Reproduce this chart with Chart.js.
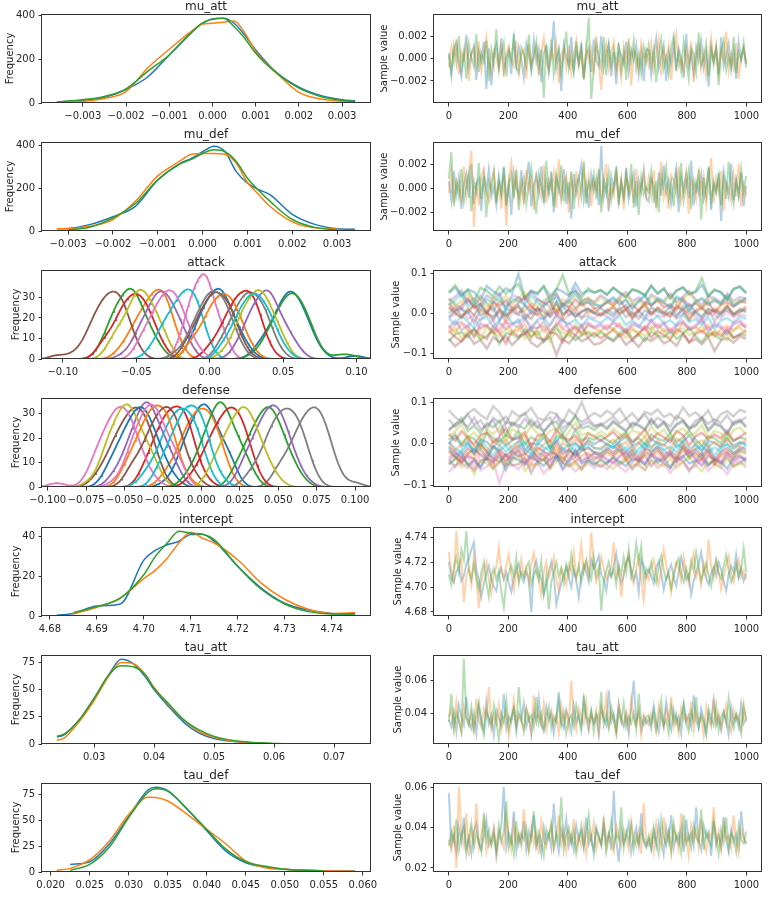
<!DOCTYPE html>
<html>
<head>
<meta charset="utf-8">
<script src="https://cdn.jsdelivr.net/npm/chart.js@4.4.1/dist/chart.umd.min.js"></script>
<style>
  body { margin: 0; background: #fff; width: 771px; height: 898px; position: relative; overflow: hidden; }
  canvas { position: absolute; }
</style>
</head>
<body>
<script>
// ---- posterior density curves ----
const muAttKdeX = [-0.0036,-0.003,-0.0025,-0.002,-0.0015,-0.001,-0.0005,-0.00025,0,0.00025,0.0005,0.00075,0.001,0.0015,0.002,0.0025,0.003,0.0033];
const muAttKde0 = [4,12,26,62,119,220,320,362,385,388,365,310,243,137,73,35,15,10];
const muAttKde1 = [4,8,21,52,160,246,327,360,365,370,375,320,236,134,49,18,8,6];
const muAttKde2 = [5,15,30,65,145,220,320,365,385,388,350,295,228,134,68,30,12,6];

const muDefKdeX = [-0.00325,-0.003,-0.0025,-0.002,-0.0015,-0.001,-0.0005,-0.00025,0,0.00025,0.0005,0.00075,0.001,0.00125,0.0015,0.002,0.0025,0.003,0.0034];
const muDefKde0 = [11,12,31,67,116,240,318,341,372,398,372,279,225,194,171,78,31,11,8];
const muDefKde1 = [11,11,23,54,140,259,329,360,364,364,360,318,228,171,116,43,15,11,null];
const muDefKde2 = [null,5,19,62,129,240,315,336,364,381,372,326,248,190,140,54,17,5,null];

const interceptKdeX = [4.6815,4.685,4.69,4.695,4.7,4.7025,4.705,4.7075,4.71,4.7125,4.715,4.72,4.725,4.73,4.735,4.74,4.745];
const interceptKde0 = [0.5,1.2,5,6,28,33,35.7,37.5,40.8,41,37.5,25,14,6.4,3,1.3,1];
const interceptKde1 = [null,1,4.4,9,18.7,23,29,36.6,42,39,36.6,28.2,16.5,8.4,3.4,1.3,1.7];
const interceptKde2 = [null,1.7,4.7,9,20.7,30,36.6,42.5,41.5,41,38.3,24.9,13.4,6,2.2,1,1];

const tauAttKdeX = [0.0238,0.025,0.0275,0.03,0.0325,0.0345,0.0365,0.0385,0.04,0.0425,0.045,0.0475,0.05,0.055,0.06,0.065,0.0735];
const tauAttKde0 = [6.3,8.5,22,42,64,78,74,62,50,34,19.7,10,5,1.5,0.3,0.3,0.3];
const tauAttKde1 = [3.3,5.4,20.5,40,63,75,74,64,52,35.7,22,11.5,6.3,1.5,0.3,0.3,null];
const tauAttKde2 = [7,9,22,42,64,72,71,64,51,36.6,22,13,7,2,0.5,0.3,0.3];

const tauDefKdeX = [0.0208,0.0225,0.025,0.0275,0.03,0.0325,0.0335,0.035,0.0375,0.04,0.0425,0.045,0.0475,0.05,0.055,0.059];
const tauDefKde0 = [null,7.4,10,27,54,80,82.4,79,61,40,20,9,4.8,2.6,1.2,1];
const tauDefKde1 = [1.6,3.5,12,30,56,72.7,72.5,69,56,41.4,27,10.7,4.2,2.6,1.2,0.8];
const tauDefKde2 = [null,1.6,7.4,24,53,77.6,81,78.6,61,41.4,22,10,5.5,2.6,1,null];

// ---- thinned chain draws (right column), spread over draws 0..999 ----
const muAttChain0 = [0.0005,-0.0012,0.0008,0.0014,-0.0003,-0.0016,0.0002,0.0021,-0.0008,0.0004,0.0011,-0.0019,0.0006,-0.0002,0.0015,-0.0027,0.0009,-0.0024,0.0003,0.0012,-0.0005,0.0018,-0.0011,0,0.0007,-0.0014,0.0022,-0.0006,0.001,-0.0001,-0.0017,0.0013,0.0004,-0.0009,0.0016,-0.0003,0.0008,-0.0021,0.0005,0.0011,-0.0013,0.0002,0.0033,-0.0008,0.0006,-0.0029,0.0012,0.0001,-0.0006,0.0019,-0.001,0.0007,-0.0004,0.0014,-0.0018,0.0003,0.0009,-0.0012,0.0017,-0.0002,-0.0007,0.002,-0.0009,0.0004,0.0013,-0.0016,0.0006,-0.0023,0.001,0.0002,-0.0005,0.0015,-0.0011,0.0008,-0.0001,0.0012,-0.0014,0.0005,-0.002,0.0009,0.0007,-0.0015,0.0003,0.0018,-0.0009,0.0001,0.0012,-0.002,0.0006,-0.0004,0.0014,-0.0011,0.0009,0,-0.0017,0.0022,-0.0006,0.0004,-0.0013,0.001,-0.0002,0.0016,-0.0008,0.0005,-0.0025,0.0011,-0.0003,0.0008,-0.0014,0.0019,-0.0007,0.0002,0.0013,-0.001,0.0006,-0.0018,0.0015,-0.0001,0.0009,-0.0005];
const muAttChain1 = [-0.0008,0.001,-0.0003,0.0017,-0.0014,0.0006,-0.0001,0.0012,-0.002,0.0004,0.0009,-0.0006,0.0015,-0.0011,0.0002,0.0019,-0.0004,-0.0013,0.0007,0.0001,-0.0009,0.0014,-0.0016,0.0005,0.0011,-0.0002,-0.0007,0.0016,-0.0012,0.0003,0.0008,-0.0018,0.0013,-0.0005,0,0.001,-0.0015,0.0006,0.0018,-0.0003,-0.001,0.0007,-0.0001,0.0014,-0.0022,0.0004,0.0009,-0.0008,0.0012,-0.0013,0.0002,0.0016,-0.0006,0.0005,-0.0019,0.0011,-0.0002,0.0008,-0.0014,0.002,-0.0004,-0.0028,0.0003,0.0013,-0.0009,0.0006,0.0015,-0.0012,0.0001,-0.0017,0.001,-0.0005,0.0018,-0.0024,0.0007,0.0002,-0.001,0.0013,-0.0003,0.0006,-0.0006,0.0013,-0.001,0.0004,0.0017,-0.0015,0.0008,-0.0002,0.0011,-0.0019,0.0005,0.0021,-0.0007,0,-0.0012,0.0009,-0.0004,0.0015,-0.0021,0.0003,0.0012,-0.0009,0.0006,-0.0016,0.0001,0.0018,-0.0005,0.001,-0.0013,0.0007,-0.0001,0.0024,-0.0011,0.0004,-0.0008,0.0014,-0.0018,0.0002,0.0009,-0.0003];
const muAttChain2 = [0.0003,-0.0015,0.0011,-0.0004,0.002,-0.0009,0.0006,-0.0018,0.0013,0.0001,-0.0007,0.0022,-0.0012,0.0005,-0.0002,0.0016,-0.002,0.0008,-0.0005,0.0026,-0.001,0.0003,0.0014,-0.0016,0.0007,-0.0001,0.0018,-0.0008,-0.0013,0.001,0.0004,-0.0006,0.0021,-0.0011,0.0002,0.0015,-0.0009,0.0008,-0.0035,0.0012,-0.0007,0.0017,-0.0014,0.0001,0.0009,-0.0012,0.0006,0.0024,-0.0009,0.0003,-0.0012,0.0015,-0.0005,0.001,-0.0018,0.0007,0.0036,-0.0036,-0.001,0.0013,0.0002,-0.0008,0.0019,-0.0015,0.0011,-0.0006,0.0008,-0.0006,0.0014,-0.0011,0.0005,-0.0019,0.0011,-0.0002,0.0016,-0.0009,0.0004,-0.0013,0.001,-0.0003,0.0012,-0.0005,0.0008,-0.0021,0.0003,0.0017,-0.0009,0.0001,-0.0014,0.001,0.002,-0.0007,0.0005,-0.0011,0.0015,-0.0002,-0.0018,0.0009,0.0004,-0.0012,0.0023,-0.0006,0,0.0013,-0.0016,0.0007,-0.0003,0.0011,-0.0024,0.0006,0.0016,-0.001,0.0002,-0.0007,0.0019,-0.0013,0.0005,-0.0001,0.0014,-0.0008];

const muDefChain0 = [0.0006,-0.001,0.0014,-0.0005,0.0009,-0.0017,0.0003,0.0012,-0.0008,0.002,-0.0013,0.0004,0.0008,-0.0019,0.0011,-0.0002,0.0016,-0.0007,0.0001,-0.0014,0.001,-0.0004,0.0017,-0.0011,0.0005,-0.0022,0.0013,0,-0.0006,0.0015,-0.0009,0.0007,0.0022,-0.0015,0.0002,0.0011,-0.0005,0.0018,-0.0012,0.0006,-0.0003,0.0014,-0.002,0.0009,0.0001,-0.0008,0.0016,-0.0013,0.0005,-0.0025,0.0012,-0.0004,0.0007,0.0019,-0.001,0.0003,-0.0016,0.0011,-0.0002,0.0008,-0.0014,0.0035,-0.0007,0.0004,-0.0019,0.001,-0.0001,0.0013,-0.0011,0.0006,-0.0006,0.0017,-0.0009,0.0002,0.0012,-0.0015,0.0007,-0.0003,0.0015,-0.0008,-0.0011,0.0008,0.0002,-0.0016,0.0013,-0.0006,0.0019,-0.0003,0.0007,-0.0012,0.0004,0.0016,-0.002,0.0009,-0.0001,0.0011,-0.0008,0.0023,-0.0014,0.0005,-0.0004,0.0012,-0.0009,0.0001,0.0017,-0.0018,0.0006,-0.0002,0.001,-0.0027,0.0014,0.0003,-0.0007,0.002,-0.001,0.0007,-0.0005,0.0013,-0.0015,0.0002];
const muDefChain1 = [-0.0004,0.0013,-0.0012,0.0007,0.0001,-0.0009,0.0018,-0.0006,0.0011,0.0031,-0.0032,0.0005,-0.0014,0.0009,0.0016,-0.0003,-0.0011,0.0006,0.0014,-0.0008,0.0002,-0.0017,0.001,-0.0031,0.0008,0.0021,-0.0005,0.0012,-0.001,0.0004,-0.0013,0.0015,-0.0002,0.0007,-0.0018,0.001,0.0003,-0.0007,0.0019,-0.0012,0.0006,-0.0001,0.0013,-0.0016,0.0024,-0.0009,0.0005,0.0011,-0.002,0.0008,-0.0004,0.0014,-0.0011,0.0002,0.0017,-0.0007,0.0009,-0.0015,0.0006,-0.0002,0.0012,-0.001,0.0004,0.002,-0.0013,0.0001,-0.0006,0.0015,-0.0009,0.0008,-0.0017,0.0011,-0.0003,0.0007,-0.0012,0.0016,-0.0005,0.0002,0.0013,-0.0007,0.0009,-0.0006,0.0015,-0.0013,0.0003,0.0022,-0.0008,0.0001,-0.0017,0.0011,0.0006,-0.0004,0.0018,-0.0011,-0.0001,0.0013,-0.0021,0.0007,0.0002,-0.0009,0.0016,-0.0005,0.001,-0.0014,0.0004,0.0025,-0.0012,0.0008,-0.0003,0.0014,-0.0019,0.0005,0,-0.001,0.0012,-0.0007,0.002,-0.0015,0.0003,-0.0006];
const muDefChain2 = [0.0008,0.003,-0.0015,0.0004,-0.0007,0.0016,-0.0011,0.0002,0.0013,-0.0019,0.0006,-0.0003,0.0021,-0.0009,0.001,-0.0024,0.0005,-0.0001,0.0014,-0.0012,0.0007,-0.0005,0.0018,-0.0014,0.0003,0.0011,-0.0008,0.0015,-0.0018,0.0001,0.0009,-0.0013,0.0004,0.0017,-0.0006,-0.0021,0.0012,0.0002,-0.001,0.0023,-0.0004,0.0008,-0.0015,0.0011,-0.0002,0.0019,-0.0011,0.0006,-0.0007,0.0014,-0.0017,0.0003,0.001,-0.0006,0.0022,-0.0013,0.0005,-0.0001,0.0012,-0.0009,0.0016,-0.002,0.0007,-0.0004,0.0013,-0.001,0.0002,0.0018,-0.0014,0.0005,-0.0008,0.0011,-0.0003,0.002,-0.0016,0.0006,-0.0022,0.0009,-0.0005,0.0001,-0.0003,0.0014,-0.0012,0.0006,-0.002,0.001,0.0001,0.0017,-0.0008,0.0004,-0.0015,0.0011,-0.0005,0.0021,-0.001,0.0002,0.0015,-0.0017,0.0007,-0.0001,0.0012,-0.0026,0.0009,-0.0006,0.0018,-0.0011,0.0003,-0.0004,0.0013,-0.0014,0.0008,-0.0009,0.0022,0,-0.0013,0.0006,-0.0007,0.0016,-0.0002,0.001];

const interceptChain0 = [4.72,4.708,4.704,4.712,4.716,4.705,4.709,4.718,4.723,4.73,4.736,4.714,4.706,4.692,4.702,4.711,4.717,4.707,4.7,4.697,4.71,4.715,4.706,4.712,4.703,4.696,4.708,4.714,4.719,4.709,4.704,4.712,4.707,4.68,4.715,4.721,4.711,4.706,4.694,4.702,4.712,4.72,4.709,4.686,4.695,4.703,4.71,4.716,4.707,4.7,4.714,4.705,4.692,4.709,4.718,4.712,4.704,4.722,4.715,4.719,4.725,4.71,4.706,4.697,4.712,4.708,4.717,4.727,4.711,4.703,4.709,4.72,4.724,4.714,4.706,4.712,4.696,4.722,4.717,4.708,4.714,4.709,4.703,4.716,4.721,4.711,4.698,4.707,4.713,4.718,4.708,4.701,4.712,4.724,4.715,4.706,4.71,4.694,4.705,4.712,4.719,4.728,4.713,4.707,4.702,4.711,4.716,4.709,4.72,4.714,4.704,4.697,4.71,4.717,4.712,4.726,4.708,4.715,4.705,4.711];
const interceptChain1 = [4.728,4.712,4.705,4.745,4.718,4.722,4.688,4.709,4.715,4.702,4.725,4.708,4.683,4.703,4.714,4.72,4.706,4.695,4.711,4.716,4.732,4.712,4.707,4.718,4.726,4.71,4.698,4.714,4.706,4.722,4.709,4.715,4.703,4.719,4.727,4.711,4.705,4.694,4.712,4.72,4.708,4.714,4.724,4.706,4.697,4.715,4.71,4.702,4.718,4.712,4.728,4.707,4.716,4.734,4.712,4.72,4.709,4.744,4.718,4.704,4.711,4.724,4.715,4.706,4.71,4.716,4.736,4.708,4.714,4.692,4.712,4.72,4.726,4.709,4.703,4.715,4.724,4.707,4.69,4.711,4.706,4.716,4.722,4.71,4.702,4.713,4.73,4.718,4.709,4.696,4.711,4.72,4.715,4.705,4.724,4.712,4.703,4.717,4.727,4.708,4.714,4.702,4.719,4.71,4.738,4.716,4.707,4.721,4.712,4.698,4.709,4.718,4.725,4.711,4.704,4.715,4.722,4.708,4.713,4.706];
const interceptChain2 = [4.71,4.702,4.716,4.724,4.712,4.73,4.722,4.745,4.714,4.706,4.718,4.708,4.698,4.712,4.72,4.704,4.692,4.71,4.715,4.706,4.713,4.696,4.684,4.705,4.711,4.717,4.709,4.724,4.703,4.712,4.708,4.716,4.72,4.702,4.71,4.714,4.706,4.721,4.695,4.709,4.682,4.704,4.712,4.72,4.709,4.715,4.703,4.718,4.71,4.726,4.712,4.708,4.717,4.704,4.714,4.722,4.711,4.706,4.724,4.709,4.716,4.681,4.705,4.713,4.72,4.709,4.714,4.702,4.718,4.71,4.724,4.712,4.73,4.708,4.716,4.735,4.72,4.733,4.706,4.715,4.712,4.72,4.708,4.703,4.717,4.725,4.714,4.706,4.711,4.699,4.709,4.718,4.723,4.71,4.704,4.715,4.707,4.721,4.713,4.728,4.716,4.705,4.712,4.719,4.709,4.701,4.714,4.722,4.711,4.707,4.717,4.726,4.713,4.704,4.71,4.718,4.708,4.715,4.731,4.712];

const tauAttChain0 = [0.036,0.032,0.041,0.029,0.045,0.038,0.033,0.05,0.035,0.031,0.04,0.028,0.044,0.036,0.03,0.047,0.034,0.039,0.027,0.042,0.037,0.033,0.052,0.031,0.038,0.035,0.043,0.029,0.04,0.036,0.046,0.032,0.038,0.027,0.041,0.035,0.049,0.033,0.03,0.044,0.036,0.04,0.028,0.038,0.053,0.034,0.031,0.042,0.037,0.029,0.045,0.035,0.039,0.032,0.048,0.036,0.03,0.041,0.034,0.038,0.027,0.043,0.037,0.033,0.054,0.035,0.04,0.031,0.046,0.036,0.032,0.039,0.028,0.044,0.06,0.035,0.041,0.03,0.038,0.034,0.037,0.031,0.044,0.035,0.029,0.04,0.033,0.047,0.036,0.03,0.042,0.034,0.038,0.028,0.045,0.035,0.039,0.032,0.051,0.036,0.031,0.043,0.037,0.029,0.04,0.034,0.048,0.033,0.038,0.03,0.041,0.036,0.027,0.044,0.035,0.039,0.032,0.046,0.034,0.037];
const tauAttChain1 = [0.038,0.042,0.03,0.047,0.035,0.029,0.044,0.037,0.033,0.04,0.028,0.049,0.036,0.032,0.043,0.038,0.056,0.031,0.039,0.034,0.045,0.03,0.037,0.041,0.026,0.036,0.048,0.033,0.039,0.035,0.031,0.044,0.038,0.029,0.051,0.036,0.04,0.033,0.046,0.03,0.037,0.042,0.034,0.039,0.028,0.045,0.035,0.041,0.032,0.06,0.036,0.03,0.043,0.038,0.034,0.047,0.031,0.039,0.035,0.042,0.029,0.044,0.037,0.05,0.033,0.04,0.036,0.028,0.045,0.038,0.034,0.041,0.031,0.048,0.037,0.033,0.042,0.027,0.039,0.036,0.033,0.04,0.036,0.029,0.045,0.038,0.031,0.042,0.035,0.05,0.032,0.037,0.028,0.043,0.036,0.039,0.033,0.047,0.03,0.041,0.035,0.038,0.027,0.044,0.036,0.032,0.049,0.034,0.04,0.031,0.037,0.045,0.033,0.029,0.042,0.036,0.039,0.031,0.046,0.035];
const tauAttChain2 = [0.035,0.052,0.031,0.04,0.036,0.029,0.073,0.038,0.033,0.044,0.03,0.039,0.047,0.034,0.027,0.041,0.037,0.032,0.045,0.036,0.024,0.04,0.035,0.048,0.031,0.038,0.043,0.033,0.056,0.037,0.029,0.042,0.036,0.039,0.032,0.05,0.034,0.04,0.03,0.037,0.044,0.031,0.038,0.035,0.047,0.033,0.041,0.028,0.036,0.039,0.032,0.045,0.037,0.03,0.051,0.038,0.035,0.042,0.029,0.04,0.036,0.053,0.033,0.039,0.031,0.044,0.037,0.028,0.041,0.035,0.046,0.032,0.038,0.034,0.04,0.03,0.052,0.036,0.033,0.038,0.039,0.034,0.042,0.03,0.037,0.048,0.033,0.036,0.028,0.044,0.035,0.04,0.031,0.038,0.046,0.034,0.029,0.041,0.036,0.05,0.032,0.039,0.035,0.027,0.043,0.037,0.033,0.045,0.03,0.038,0.041,0.034,0.049,0.036,0.031,0.04,0.035,0.028,0.044,0.037];

const tauDefChain0 = [0.057,0.031,0.036,0.028,0.04,0.033,0.045,0.03,0.035,0.027,0.038,0.042,0.032,0.029,0.036,0.044,0.031,0.034,0.039,0.026,0.035,0.041,0.06,0.03,0.037,0.033,0.048,0.028,0.036,0.032,0.043,0.029,0.038,0.034,0.046,0.031,0.035,0.027,0.04,0.033,0.037,0.03,0.052,0.035,0.028,0.039,0.033,0.044,0.031,0.036,0.029,0.041,0.034,0.038,0.03,0.045,0.032,0.036,0.027,0.04,0.035,0.031,0.043,0.033,0.037,0.029,0.058,0.034,0.023,0.039,0.032,0.036,0.042,0.028,0.035,0.04,0.031,0.047,0.033,0.03,0.034,0.029,0.038,0.031,0.042,0.035,0.027,0.04,0.033,0.046,0.03,0.036,0.032,0.039,0.028,0.044,0.034,0.037,0.031,0.05,0.033,0.029,0.041,0.035,0.038,0.026,0.043,0.032,0.036,0.03,0.045,0.034,0.028,0.039,0.033,0.037,0.031,0.048,0.035,0.032];
const tauDefChain1 = [0.034,0.029,0.041,0.02,0.06,0.037,0.031,0.047,0.026,0.039,0.033,0.052,0.03,0.036,0.044,0.028,0.035,0.032,0.04,0.027,0.038,0.034,0.03,0.045,0.036,0.029,0.042,0.033,0.037,0.031,0.049,0.035,0.028,0.04,0.032,0.038,0.027,0.043,0.034,0.03,0.036,0.041,0.029,0.035,0.046,0.032,0.039,0.028,0.037,0.033,0.044,0.03,0.036,0.031,0.04,0.027,0.038,0.034,0.042,0.029,0.035,0.032,0.045,0.03,0.037,0.033,0.028,0.041,0.036,0.031,0.039,0.034,0.029,0.043,0.035,0.031,0.038,0.027,0.052,0.033,0.031,0.037,0.028,0.042,0.034,0.03,0.045,0.033,0.038,0.027,0.04,0.035,0.029,0.047,0.032,0.036,0.026,0.041,0.034,0.039,0.03,0.044,0.033,0.028,0.037,0.035,0.05,0.031,0.038,0.029,0.042,0.034,0.036,0.03,0.046,0.033,0.027,0.039,0.035,0.032];
const tauDefChain2 = [0.031,0.038,0.033,0.044,0.029,0.036,0.04,0.027,0.035,0.042,0.03,0.037,0.033,0.028,0.047,0.034,0.039,0.031,0.036,0.029,0.041,0.033,0.038,0.053,0.03,0.035,0.027,0.043,0.032,0.037,0.034,0.04,0.029,0.036,0.048,0.031,0.038,0.033,0.026,0.039,0.035,0.042,0.03,0.037,0.033,0.055,0.029,0.036,0.04,0.032,0.038,0.027,0.034,0.041,0.031,0.037,0.046,0.033,0.029,0.039,0.036,0.032,0.04,0.028,0.035,0.043,0.031,0.037,0.034,0.05,0.03,0.038,0.033,0.041,0.029,0.036,0.032,0.039,0.034,0.031,0.036,0.03,0.04,0.033,0.027,0.044,0.035,0.031,0.038,0.029,0.042,0.034,0.037,0.028,0.046,0.032,0.036,0.03,0.041,0.035,0.033,0.049,0.029,0.038,0.034,0.031,0.043,0.036,0.027,0.039,0.033,0.045,0.03,0.037,0.035,0.028,0.041,0.034,0.032,0.038];

// per-team thinned draws; the densities on the left are estimated from these
const attackDraws = [
  [0.051,0.065,0.042,0.06,0.054,0.034,0.069,0.056,0.046,0.063,0.053,0.099,0.039,0.058,0.048,0.067,0.031,0.062,0.055,0.044,0.076,0.05,0.057,0.052,0.058,0.047,0.064,0.052,0.041,0.06,0.055,0.045,0.069,0.05,0.062,0.038,0.057,0.065,0.048,0.054,0.072,0.043,0.059,0.053,0.035,0.061,0.067,0.051],
  [-0.032,-0.048,-0.025,-0.041,-0.057,-0.034,-0.029,-0.052,-0.038,-0.018,-0.045,-0.042,-0.027,-0.063,-0.036,-0.031,-0.05,-0.022,-0.039,-0.046,-0.035,-0.054,-0.03,-0.037,-0.044,-0.03,-0.04,-0.025,-0.049,-0.036,-0.054,-0.032,-0.039,-0.027,-0.045,-0.037,-0.051,-0.022,-0.042,-0.034,-0.047,-0.029,-0.059,-0.038,-0.031,-0.043,-0.028,-0.033],
  [-0.069,-0.053,-0.047,-0.06,-0.037,-0.065,-0.056,-0.043,-0.076,-0.049,-0.052,-0.062,-0.04,-0.058,-0.045,-0.072,-0.054,-0.031,-0.064,-0.05,-0.067,-0.055,-0.048,-0.059,-0.047,-0.058,-0.066,-0.05,-0.039,-0.062,-0.053,-0.069,-0.045,-0.055,-0.06,-0.042,-0.064,-0.051,-0.036,-0.057,-0.072,-0.049,-0.054,-0.065,-0.043,-0.061,-0.052,-0.056],
  [-0.043,-0.059,-0.07,-0.05,-0.04,-0.054,-0.064,-0.033,-0.048,-0.075,-0.045,-0.057,-0.052,-0.037,-0.061,-0.066,-0.047,-0.051,-0.072,-0.042,-0.055,-0.03,-0.06,-0.049,-0.062,-0.052,-0.041,-0.057,-0.046,-0.068,-0.05,-0.035,-0.06,-0.044,-0.054,-0.065,-0.039,-0.048,-0.073,-0.051,-0.043,-0.058,-0.047,-0.056,-0.038,-0.061,-0.053,-0.042],
  [-0.035,-0.018,-0.042,-0.03,-0.059,-0.025,-0.032,-0.046,-0.022,-0.039,-0.027,-0.015,-0.05,-0.034,-0.037,-0.02,-0.044,-0.029,-0.012,-0.04,-0.033,-0.048,-0.026,-0.036,-0.03,-0.041,-0.024,-0.036,-0.047,-0.028,-0.033,-0.043,-0.019,-0.038,-0.026,-0.05,-0.031,-0.023,-0.04,-0.034,-0.016,-0.045,-0.029,-0.035,-0.053,-0.027,-0.021,-0.037],
  [-0.064,-0.082,-0.069,-0.052,-0.076,-0.066,-0.088,-0.06,-0.071,-0.057,-0.079,-0.063,-0.048,-0.073,-0.084,-0.068,-0.059,-0.104,-0.065,-0.075,-0.055,-0.07,-0.061,-0.078,-0.074,-0.06,-0.07,-0.055,-0.079,-0.066,-0.084,-0.062,-0.069,-0.057,-0.075,-0.067,-0.081,-0.052,-0.072,-0.064,-0.077,-0.059,-0.094,-0.068,-0.061,-0.073,-0.058,-0.063],
  [-0.011,-0.002,0.011,-0.014,-0.004,-0.018,0.001,-0.007,0.005,-0.023,0.002,-0.003,-0.01,0.008,-0.006,-0.015,0,0.004,-0.019,-0.002,0.014,-0.009,-0.005,-0.012,0.001,-0.007,-0.014,-0.001,0.008,-0.011,-0.003,-0.016,0.003,-0.005,-0.009,0.005,-0.012,-0.002,0.01,-0.007,-0.019,0,-0.004,-0.013,0.005,-0.01,-0.003,-0.006],
  [0.038,0.024,0.012,0.034,0.019,0.044,0.026,0.006,0.031,0.016,0.029,0.041,0.022,0.009,0.036,0.027,0.017,0.049,0.021,0.032,0.014,0.028,0.035,0.025,0.017,0.027,0.038,0.022,0.033,0.011,0.029,0.044,0.019,0.035,0.025,0.014,0.04,0.031,0.006,0.028,0.036,0.021,0.032,0.023,0.041,0.018,0.026,0.037],
  [-0.051,-0.036,-0.061,-0.042,-0.048,-0.066,-0.033,-0.046,-0.057,-0.039,-0.049,-0.03,-0.063,-0.044,-0.054,-0.035,-0.07,-0.04,-0.047,-0.058,-0.027,-0.052,-0.045,-0.05,-0.044,-0.055,-0.038,-0.05,-0.061,-0.042,-0.047,-0.057,-0.033,-0.052,-0.04,-0.064,-0.045,-0.037,-0.054,-0.048,-0.03,-0.059,-0.043,-0.049,-0.067,-0.041,-0.035,-0.051],
  [-0.012,-0.028,-0.005,-0.021,-0.036,-0.014,-0.009,-0.032,-0.018,0.001,-0.025,-0.022,-0.007,-0.042,-0.016,-0.011,-0.03,-0.003,-0.019,-0.026,-0.015,-0.034,-0.01,-0.017,-0.024,-0.01,-0.02,-0.005,-0.029,-0.016,-0.034,-0.012,-0.019,-0.007,-0.025,-0.017,-0.031,-0.002,-0.022,-0.014,-0.027,-0.009,-0.039,-0.018,-0.011,-0.023,-0.008,-0.013],
  [-0.009,0.007,0.013,0,0.023,-0.005,0.004,0.017,-0.016,0.011,0.008,-0.002,0.02,0.002,0.015,-0.012,0.006,0.029,-0.004,0.01,-0.007,0.005,0.012,0.001,0.013,0.002,-0.006,0.01,0.021,-0.002,0.007,-0.009,0.015,0.005,0,0.018,-0.004,0.009,0.024,0.003,-0.012,0.011,0.006,-0.005,0.017,-0.001,0.008,0.004],
  [0.017,0.001,-0.01,0.01,0.02,0.006,-0.004,0.027,0.012,-0.015,0.015,0.003,0.008,0.023,-0.001,-0.006,0.013,0.009,-0.012,0.018,0.005,0.03,0,0.011,-0.002,0.008,0.019,0.003,0.014,-0.008,0.01,0.025,0,0.016,0.006,-0.005,0.021,0.012,-0.013,0.009,0.017,0.002,0.013,0.004,0.022,-0.001,0.007,0.018],
  [0.054,0.071,0.047,0.059,0.03,0.064,0.057,0.043,0.067,0.05,0.062,0.074,0.039,0.055,0.052,0.069,0.045,0.06,0.096,0.049,0.056,0.041,0.063,0.053,0.059,0.048,0.065,0.053,0.042,0.061,0.056,0.046,0.07,0.051,0.063,0.039,0.058,0.066,0.049,0.055,0.088,0.044,0.06,0.054,0.036,0.062,0.068,0.052],
  [0.026,0.008,0.021,0.038,0.014,0.024,0.002,0.03,0.019,0.033,0.011,0.027,0.042,0.017,0.006,0.022,0.031,-0.003,0.025,0.015,0.035,0.02,0.029,0.012,0.016,0.03,0.02,0.035,0.011,0.024,0.006,0.028,0.021,0.033,0.015,0.023,0.009,0.038,0.018,0.026,0.013,0.031,0.001,0.022,0.029,0.017,0.032,0.027],
  [0.03,0.042,0.058,0.027,0.039,0.022,0.045,0.035,0.051,0.016,0.047,0.04,0.032,0.054,0.037,0.026,0.043,0.049,0.02,0.041,0.062,0.033,0.038,0.029,0.046,0.035,0.027,0.043,0.054,0.031,0.04,0.024,0.048,0.038,0.033,0.051,0.029,0.042,0.057,0.036,0.021,0.044,0.039,0.028,0.05,0.032,0.041,0.037],
  [0.015,0.001,-0.011,0.011,-0.004,0.021,0.003,-0.017,0.008,-0.007,0.006,0.018,-0.001,-0.014,0.013,0.004,-0.006,0.026,-0.002,0.009,-0.009,0.005,0.012,0.002,-0.006,0.004,0.015,-0.001,0.01,-0.012,0.006,0.021,-0.004,0.012,0.002,-0.009,0.017,0.008,-0.017,0.005,0.013,-0.002,0.009,0,0.018,-0.005,0.003,0.014],
  [-0.043,-0.027,-0.021,-0.034,-0.011,-0.039,-0.03,-0.017,-0.05,-0.023,-0.026,-0.036,-0.014,-0.032,-0.019,-0.046,-0.028,-0.005,-0.038,-0.024,-0.041,-0.029,-0.022,-0.033,-0.025,-0.036,-0.019,-0.031,-0.042,-0.023,-0.028,-0.038,-0.014,-0.033,-0.021,-0.045,-0.026,-0.018,-0.035,-0.029,-0.011,-0.04,-0.024,-0.03,-0.048,-0.022,-0.016,-0.032],
  [0,0.017,-0.007,0.005,-0.024,0.01,0.003,-0.011,0.013,-0.004,0.008,0.02,-0.015,0.001,-0.002,0.015,-0.009,0.006,0.023,-0.005,0.002,-0.013,0.009,-0.001,-0.004,0.01,0,0.015,-0.009,0.004,-0.014,0.008,0.001,0.013,-0.005,0.003,-0.011,0.018,-0.002,0.006,-0.007,0.011,-0.019,0.002,0.009,-0.003,0.012,0.007],
  [0.037,0.019,0.032,0.049,0.025,0.035,0.013,0.041,0.03,0.044,0.022,0.038,0.053,0.028,0.017,0.033,0.042,0.008,0.036,0.026,0.046,0.031,0.04,0.023,0.04,0.029,0.021,0.037,0.048,0.025,0.034,0.018,0.042,0.032,0.027,0.045,0.023,0.036,0.051,0.03,0.015,0.038,0.033,0.022,0.044,0.026,0.035,0.031],
  [0.021,0.033,0.049,0.018,0.03,0.013,0.036,0.026,0.042,0.007,0.038,0.031,0.023,0.045,0.028,0.017,0.034,0.04,0.011,0.032,0.053,0.024,0.029,0.02,0.02,0.03,0.041,0.025,0.036,0.014,0.032,0.047,0.022,0.038,0.028,0.017,0.043,0.034,0.009,0.031,0.039,0.024,0.035,0.026,0.044,0.021,0.029,0.04]
];
const defenseDraws = [
  [0,0.018,-0.006,0.005,-0.023,0.01,0.004,-0.011,0.012,-0.004,0.008,0.019,-0.016,0.001,-0.002,0.015,-0.01,0.006,0.022,-0.005,0.002,-0.013,0.009,-0.001,0.009,-0.002,-0.01,0.006,0.017,-0.006,0.003,-0.013,0.011,0.001,-0.004,0.014,-0.008,0.005,0.02,-0.001,-0.016,0.007,0.002,-0.009,0.013,-0.005,0.004,0],
  [0.003,-0.015,-0.002,0.015,-0.009,0.001,-0.021,0.007,-0.004,0.01,-0.012,0.004,0.019,-0.006,-0.017,-0.001,0.008,-0.026,0.002,-0.008,0.012,-0.003,0.006,-0.011,-0.011,-0.001,0.01,-0.006,0.005,-0.017,0.001,0.016,-0.009,0.007,-0.003,-0.014,0.012,0.003,-0.022,0,0.008,-0.007,0.004,-0.005,0.013,-0.01,-0.002,0.009],
  [0.034,0.046,0.062,0.031,0.043,0.026,0.049,0.039,0.055,0.02,0.051,0.044,0.036,0.058,0.041,0.03,0.047,0.053,0.024,0.045,0.066,0.037,0.042,0.033,0.046,0.035,0.052,0.04,0.029,0.048,0.043,0.033,0.057,0.038,0.05,0.026,0.045,0.053,0.036,0.042,0.06,0.031,0.047,0.041,0.023,0.049,0.055,0.039],
  [-0.007,-0.021,-0.033,-0.011,-0.026,-0.001,-0.019,-0.039,-0.014,-0.029,-0.016,-0.004,-0.023,-0.036,-0.009,-0.018,-0.028,0.004,-0.024,-0.013,-0.031,-0.017,-0.01,-0.02,-0.023,-0.01,-0.021,-0.004,-0.029,-0.015,-0.033,-0.012,-0.018,-0.007,-0.026,-0.017,-0.03,-0.003,-0.022,-0.013,-0.027,-0.009,-0.038,-0.019,-0.011,-0.024,-0.008,-0.014],
  [-0.039,-0.025,-0.048,-0.03,-0.036,-0.056,-0.021,-0.034,-0.044,-0.027,-0.037,-0.017,-0.051,-0.032,-0.042,-0.023,-0.059,-0.028,-0.035,-0.046,-0.014,-0.04,-0.033,-0.038,-0.028,-0.039,-0.047,-0.031,-0.02,-0.043,-0.034,-0.05,-0.026,-0.036,-0.041,-0.023,-0.045,-0.032,-0.017,-0.038,-0.053,-0.03,-0.035,-0.046,-0.024,-0.042,-0.033,-0.037],
  [-0.039,-0.055,-0.032,-0.048,-0.064,-0.041,-0.036,-0.059,-0.045,-0.025,-0.052,-0.049,-0.034,-0.07,-0.043,-0.038,-0.057,-0.029,-0.046,-0.053,-0.042,-0.061,-0.037,-0.044,-0.055,-0.045,-0.034,-0.05,-0.039,-0.061,-0.043,-0.028,-0.053,-0.037,-0.047,-0.058,-0.032,-0.041,-0.066,-0.044,-0.036,-0.051,-0.04,-0.049,-0.031,-0.054,-0.046,-0.035],
  [-0.068,-0.052,-0.046,-0.059,-0.036,-0.064,-0.055,-0.042,-0.094,-0.048,-0.051,-0.061,-0.039,-0.057,-0.044,-0.071,-0.053,-0.03,-0.063,-0.049,-0.066,-0.054,-0.047,-0.058,-0.05,-0.061,-0.044,-0.056,-0.067,-0.048,-0.053,-0.063,-0.039,-0.058,-0.046,-0.07,-0.051,-0.043,-0.06,-0.054,-0.036,-0.065,-0.049,-0.055,-0.073,-0.047,-0.041,-0.057],
  [0.08,0.064,0.053,0.073,0.083,0.069,0.059,0.09,0.075,0.048,0.078,0.066,0.071,0.086,0.062,0.057,0.076,0.072,0.051,0.081,0.068,0.1,0.063,0.074,0.065,0.079,0.069,0.084,0.06,0.073,0.055,0.077,0.07,0.082,0.064,0.072,0.058,0.087,0.067,0.075,0.062,0.08,0.05,0.071,0.078,0.066,0.081,0.076],
  [-0.05,-0.033,-0.057,-0.045,-0.073,-0.04,-0.047,-0.061,-0.037,-0.054,-0.042,-0.03,-0.065,-0.049,-0.052,-0.035,-0.059,-0.044,-0.027,-0.055,-0.048,-0.063,-0.041,-0.051,-0.041,-0.052,-0.06,-0.044,-0.033,-0.056,-0.047,-0.063,-0.039,-0.049,-0.054,-0.036,-0.058,-0.045,-0.03,-0.051,-0.066,-0.043,-0.048,-0.059,-0.037,-0.055,-0.046,-0.05],
  [-0.01,-0.028,-0.015,0.002,-0.022,-0.012,-0.034,-0.006,-0.017,-0.003,-0.025,-0.009,0.006,-0.019,-0.03,-0.014,-0.005,-0.039,-0.011,-0.021,-0.001,-0.016,-0.007,-0.024,-0.024,-0.014,-0.003,-0.019,-0.008,-0.03,-0.012,0.003,-0.022,-0.006,-0.016,-0.027,-0.001,-0.01,-0.035,-0.013,-0.005,-0.02,-0.009,-0.018,0,-0.023,-0.015,-0.004],
  [-0.049,-0.037,-0.021,-0.052,-0.04,-0.057,-0.034,-0.044,-0.028,-0.063,-0.032,-0.039,-0.047,-0.025,-0.042,-0.053,-0.036,-0.03,-0.059,-0.038,-0.017,-0.046,-0.041,-0.05,-0.037,-0.048,-0.031,-0.043,-0.054,-0.035,-0.04,-0.05,-0.026,-0.045,-0.033,-0.057,-0.038,-0.03,-0.047,-0.041,-0.023,-0.052,-0.036,-0.042,-0.06,-0.034,-0.028,-0.044],
  [-0.019,-0.033,-0.045,-0.023,-0.038,-0.013,-0.031,-0.051,-0.026,-0.041,-0.028,-0.016,-0.035,-0.048,-0.021,-0.03,-0.04,-0.008,-0.036,-0.025,-0.043,-0.029,-0.022,-0.032,-0.036,-0.022,-0.032,-0.017,-0.041,-0.028,-0.046,-0.024,-0.031,-0.019,-0.037,-0.029,-0.043,-0.014,-0.034,-0.026,-0.039,-0.021,-0.051,-0.03,-0.023,-0.035,-0.02,-0.025],
  [0.009,0.023,0,0.018,0.012,-0.008,0.027,0.014,0.004,0.021,0.011,0.031,-0.003,0.016,0.006,0.025,-0.011,0.02,0.013,0.002,0.034,0.008,0.015,0.01,0.02,0.009,0.001,0.017,0.028,0.005,0.014,-0.002,0.022,0.012,0.007,0.025,0.003,0.016,0.031,0.01,-0.005,0.018,0.013,0.002,0.024,0.006,0.015,0.011],
  [0.023,0.007,0.03,0.014,-0.002,0.021,0.026,0.003,0.017,0.037,0.01,0.013,0.028,-0.008,0.019,0.024,0.005,0.033,0.016,0.009,0.02,0.001,0.025,0.018,0.007,0.017,0.028,0.012,0.023,0.001,0.019,0.034,0.009,0.025,0.015,0.004,0.03,0.021,-0.004,0.018,0.026,0.011,0.022,0.013,0.031,0.008,0.016,0.027],
  [0.031,0.047,0.053,0.04,0.063,0.035,0.044,0.057,0.024,0.051,0.048,0.038,0.06,0.042,0.055,0.028,0.046,0.069,0.036,0.05,0.033,0.045,0.052,0.041,0.049,0.038,0.055,0.043,0.032,0.051,0.046,0.036,0.06,0.041,0.053,0.029,0.048,0.056,0.039,0.045,0.063,0.034,0.05,0.044,0.026,0.052,0.058,0.042],
  [-0.016,-0.032,-0.043,-0.023,-0.013,-0.027,-0.037,-0.006,-0.021,-0.048,-0.018,-0.03,-0.025,-0.01,-0.034,-0.039,-0.02,-0.024,-0.045,-0.015,-0.028,-0.003,-0.033,-0.022,-0.031,-0.017,-0.027,-0.012,-0.036,-0.023,-0.041,-0.019,-0.026,-0.014,-0.032,-0.024,-0.038,-0.009,-0.029,-0.021,-0.034,-0.016,-0.046,-0.025,-0.018,-0.03,-0.015,-0.02],
  [-0.034,-0.016,-0.041,-0.029,-0.057,-0.024,-0.031,-0.045,-0.021,-0.038,-0.026,-0.014,-0.049,-0.033,-0.036,-0.019,-0.043,-0.028,-0.011,-0.039,-0.032,-0.047,-0.025,-0.035,-0.025,-0.036,-0.044,-0.028,-0.017,-0.04,-0.031,-0.047,-0.023,-0.033,-0.038,-0.02,-0.042,-0.029,-0.014,-0.035,-0.05,-0.027,-0.032,-0.043,-0.021,-0.039,-0.03,-0.034],
  [0.058,0.04,0.053,0.07,0.046,0.056,0.034,0.062,0.051,0.065,0.043,0.059,0.074,0.049,0.038,0.054,0.063,0.029,0.057,0.047,0.067,0.052,0.061,0.044,0.044,0.054,0.065,0.049,0.06,0.038,0.056,0.071,0.046,0.062,0.052,0.041,0.067,0.058,0.033,0.055,0.063,0.048,0.059,0.05,0.068,0.045,0.053,0.064],
  [0.018,0.03,0.046,0.015,0.027,0.01,0.033,0.023,0.039,0.004,0.035,0.028,0.02,0.042,0.025,0.014,0.031,0.037,0.008,0.029,0.05,0.021,0.026,0.017,0.03,0.019,0.036,0.024,0.013,0.032,0.027,0.017,0.041,0.022,0.034,0.01,0.029,0.037,0.02,0.026,0.044,0.015,0.031,0.025,0.007,0.033,0.039,0.023],
  [0.003,-0.011,-0.023,-0.001,-0.016,0.009,-0.009,-0.029,-0.004,-0.019,-0.006,0.006,-0.013,-0.026,0.001,-0.008,-0.018,0.014,-0.014,-0.003,-0.021,-0.007,0,-0.01,-0.014,0,-0.01,0.005,-0.019,-0.006,-0.024,-0.002,-0.009,0.003,-0.015,-0.007,-0.021,0.008,-0.012,-0.004,-0.017,0.001,-0.029,-0.008,-0.001,-0.013,0.002,-0.003]
];

// ---- tick positions ----
const muTicks = [-0.003,-0.002,-0.001,0,0.001,0.002,0.003];
const muTraceTicks = [-0.002,0,0.002];
const attackTicks = [-0.1,-0.05,0,0.05,0.1];
const defenseTicks = [-0.1,-0.075,-0.05,-0.025,0,0.025,0.05,0.075,0.1];
const teamTraceTicks = [-0.1,0,0.1];
const interceptTicks = [4.68,4.69,4.7,4.71,4.72,4.73,4.74];
const interceptTraceTicks = [4.68,4.7,4.72,4.74];
const tauAttTicks = [0.03,0.04,0.05,0.06,0.07];
const tauDefTicks = [0.02,0.025,0.03,0.035,0.04,0.045,0.05,0.055,0.06];
const tauTraceTicks = [0.02,0.04,0.06];
const drawTicks = [0,200,400,600,800,1000];
const freqTicksMu = [0,200,400];
const freqTicksTeam = [0,10,20,30];
const freqTicksIntercept = [0,20,40];
const freqTicksTau = [0,25,50,75];

const tab10 = ['#1f77b4','#ff7f0e','#2ca02c','#d62728','#9467bd','#8c564b','#e377c2','#7f7f7f','#bcbd22','#17becf'];
const rowTops = [14, 142, 270, 398, 527, 655, 783];
const PLOT_H = 89, TITLE_H = 14, XAXIS_H = 24;

Chart.defaults.font.family = '"DejaVu Sans", sans-serif';
Chart.defaults.font.size = 10;
Chart.defaults.color = '#262626';

function rgba(hex, a) {
  const n = parseInt(hex.slice(1), 16);
  return `rgba(${n >> 16},${(n >> 8) & 255},${n & 255},${a})`;
}
function fmt(v, d) {
  const s = Math.abs(v).toFixed(d);
  return (v < 0 && +s !== 0 ? '\u2212' : '') + s;
}
function padded(lo, hi) {
  const m = (hi - lo) * 0.05;
  return [lo - m, hi + m];
}

// gaussian kernel density estimate, Scott's bandwidth
function kde(samples) {
  const s = samples.slice().sort((a, b) => a - b), n = s.length;
  const mean = s.reduce((a, b) => a + b, 0) / n;
  const sd = Math.sqrt(s.reduce((a, b) => a + (b - mean) * (b - mean), 0) / (n - 1));
  const h = sd * Math.pow(n, -0.2);
  const lo = s[0] - 3 * h, hi = s[n - 1] + 3 * h, pts = [];
  for (let k = 0; k <= 120; k++) {
    const x = lo + (hi - lo) * k / 120;
    let acc = 0;
    for (const v of s) { const u = (x - v) / h; acc += Math.exp(-0.5 * u * u); }
    pts.push({ x, y: acc / (n * h * Math.sqrt(2 * Math.PI)) });
  }
  return pts;
}

const framePlugin = {
  id: 'frame',
  afterDraw(chart, args, opts) {
    const { ctx, chartArea: a } = chart;
    ctx.save();
    ctx.strokeStyle = '#333';
    ctx.lineWidth = 1;
    ctx.strokeRect(Math.round(a.left) - 0.5, Math.round(a.top) + 0.5, Math.round(a.right - a.left) + 1, Math.round(a.bottom - a.top) - 1);
    ctx.fillStyle = '#262626';
    ctx.textAlign = 'center';
    ctx.textBaseline = 'middle';
    ctx.font = '12px "DejaVu Sans"';
    ctx.fillText(opts.title, (a.left + a.right) / 2, a.top - 7);
    ctx.font = '10px "DejaVu Sans"';
    const w = Math.max(...chart.scales.y.ticks.map(t => ctx.measureText(t.label).width));
    ctx.translate(a.left - 7 - w - 6, (a.top + a.bottom) / 2);
    ctx.rotate(-Math.PI / 2);
    ctx.fillText(opts.ylabel, 0, 0);
    ctx.restore();
  }
};

function axis(range, ticks, dec, horizontal, size) {
  return {
    type: 'linear', min: range[0], max: range[1],
    grid: { drawOnChartArea: false, drawTicks: true, tickLength: 3.5, color: '#333', lineWidth: 1 },
    border: { display: false },
    ticks: { padding: 3.5, maxRotation: 0, minRotation: 0, autoSkip: false, callback: v => fmt(v, dec) },
    afterBuildTicks: s => { s.ticks = ticks.filter(v => v >= range[0] && v <= range[1]).map(v => ({ value: v })); },
    afterFit: s => {
      if (horizontal) s.height = size; else s.width = size;
      s.paddingLeft = s.paddingRight = s.paddingTop = s.paddingBottom = 0;
    }
  };
}

function panel(col, row, p) {
  const cv = document.createElement('canvas');
  cv.width = col ? 391 : 380;
  cv.height = TITLE_H + PLOT_H + XAXIS_H;
  cv.style.left = (col ? 380 : 0) + 'px';
  cv.style.top = (rowTops[row] - TITLE_H) + 'px';
  document.body.appendChild(cv);
  new Chart(cv, {
    type: 'line',
    data: { datasets: p.datasets },
    options: {
      responsive: false,
      animation: false,
      layout: { padding: { top: TITLE_H, right: 10, left: 0, bottom: 0 } },
      plugins: { legend: { display: false }, tooltip: { enabled: false }, frame: { title: p.title, ylabel: col ? 'Sample value' : 'Frequency' } },
      elements: { point: { radius: 0 } },
      scales: {
        x: axis(p.xRange, p.xTicks, p.xDec, true, XAXIS_H),
        y: axis(p.yRange, p.yTicks, p.yDec, false, col ? 54 : 42)
      }
    },
    plugins: [framePlugin]
  });
}

function densityPanel(row, title, grid, chains, ticks, dec, yTicks) {
  const datasets = chains.map((ys, i) => ({
    data: grid.map((x, k) => ({ x, y: ys[k] })),
    borderColor: tab10[i], borderWidth: 1.5, cubicInterpolationMode: 'monotone', order: -i
  }));
  const top = Math.max(...chains.flat().filter(v => v !== null));
  panel(0, row, { title, datasets, xRange: padded(grid[0], grid[grid.length - 1]), xTicks: ticks, xDec: dec, yRange: [0, top * 1.05], yTicks, yDec: 0 });
}

function tracePanel(row, title, chains, colors, yTicks, yDec, width) {
  const datasets = chains.map((vals, i) => ({
    data: vals.map((y, k) => ({ x: k * 999 / (vals.length - 1), y })),
    borderColor: rgba(colors[i], 0.35), borderWidth: width, order: -i
  }));
  const all = chains.flat();
  panel(1, row, { title, datasets, xRange: padded(0, 999), xTicks: drawTicks, xDec: 0, yRange: padded(Math.min(...all), Math.max(...all)), yTicks, yDec });
}

function teamDensityPanel(row, title, draws, ticks, dec) {
  const curves = draws.map(kde);
  const datasets = curves.map((pts, i) => ({ data: pts, borderColor: tab10[i % 10], borderWidth: 1.8, order: -i }));
  const all = draws.flat(), ys = curves.flat().map(p => p.y);
  panel(0, row, { title, datasets, xRange: padded(Math.min(...all), Math.max(...all)), xTicks: ticks, xDec: dec, yRange: [0, Math.max(...ys) * 1.05], yTicks: freqTicksTeam, yDec: 0 });
}

const chainColors = tab10.slice(0, 3);
const teamColors = attackDraws.map((d, i) => tab10[i % 10]);

densityPanel(0, 'mu_att', muAttKdeX, [muAttKde0, muAttKde1, muAttKde2], muTicks, 3, freqTicksMu);
tracePanel(0, 'mu_att', [muAttChain0, muAttChain1, muAttChain2], chainColors, muTraceTicks, 3, 2);

densityPanel(1, 'mu_def', muDefKdeX, [muDefKde0, muDefKde1, muDefKde2], muTicks, 3, freqTicksMu);
tracePanel(1, 'mu_def', [muDefChain0, muDefChain1, muDefChain2], chainColors, muTraceTicks, 3, 2);

teamDensityPanel(2, 'attack', attackDraws, attackTicks, 2);
tracePanel(2, 'attack', attackDraws, teamColors, teamTraceTicks, 1, 2.5);

teamDensityPanel(3, 'defense', defenseDraws, defenseTicks, 3);
tracePanel(3, 'defense', defenseDraws, teamColors, teamTraceTicks, 1, 2.5);

densityPanel(4, 'intercept', interceptKdeX, [interceptKde0, interceptKde1, interceptKde2], interceptTicks, 2, freqTicksIntercept);
tracePanel(4, 'intercept', [interceptChain0, interceptChain1, interceptChain2], chainColors, interceptTraceTicks, 2, 2);

densityPanel(5, 'tau_att', tauAttKdeX, [tauAttKde0, tauAttKde1, tauAttKde2], tauAttTicks, 2, freqTicksTau);
tracePanel(5, 'tau_att', [tauAttChain0, tauAttChain1, tauAttChain2], chainColors, tauTraceTicks, 2, 2);

densityPanel(6, 'tau_def', tauDefKdeX, [tauDefKde0, tauDefKde1, tauDefKde2], tauDefTicks, 3, freqTicksTau);
tracePanel(6, 'tau_def', [tauDefChain0, tauDefChain1, tauDefChain2], chainColors, tauTraceTicks, 2, 2);
</script>
</body>
</html>
